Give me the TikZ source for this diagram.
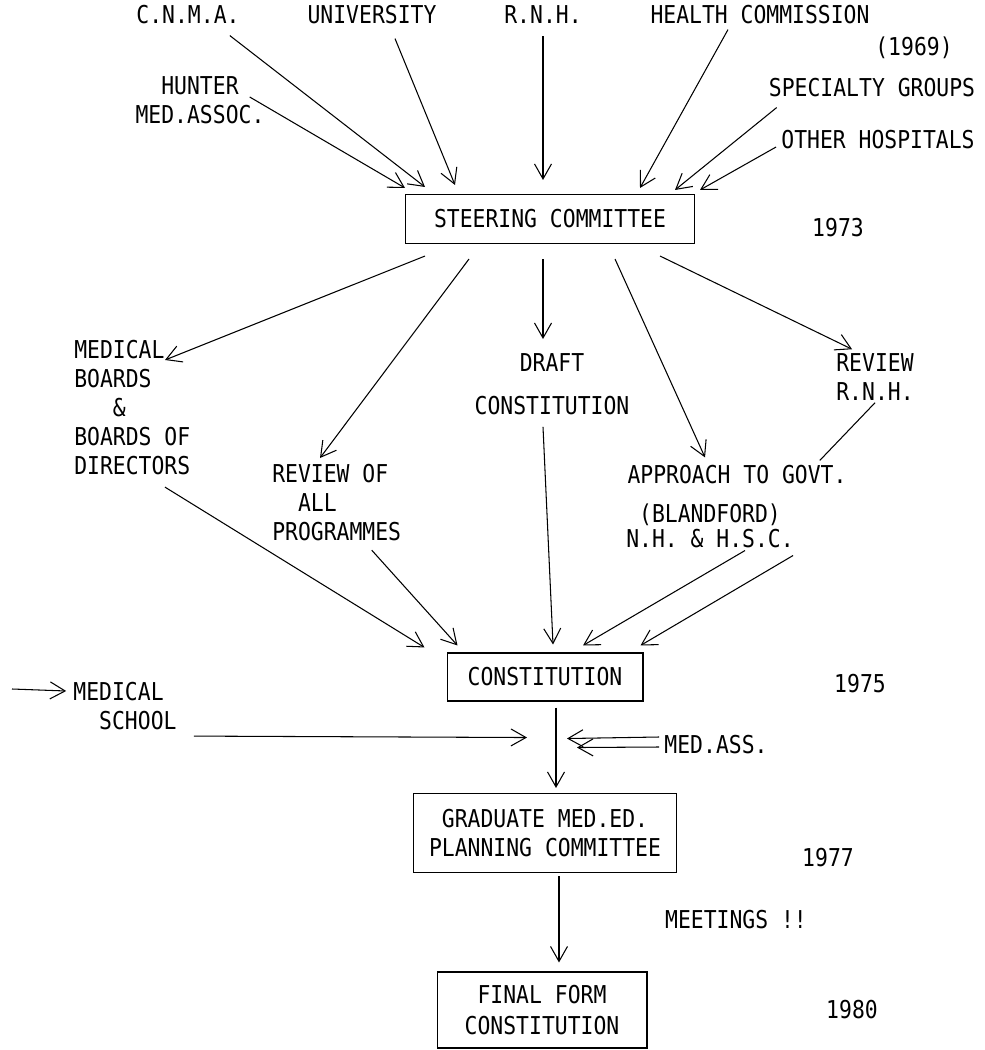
\documentclass[tikz,border=0pt]{standalone}
\usepackage{fontspec}
\newfontfamily\typewfont[FakeStretch=0.87]{DejaVu Sans Mono}
\usetikzlibrary{arrows.meta}
\begin{document}
\begin{tikzpicture}[x=0.02cm,y=-0.02cm,line width=0.6pt,
    >={Straight Barb[length=3mm,width=3.4mm]},
    font=\typewfont\fontsize{14}{16.5}\selectfont]

      \useasboundingbox (0,0) rectangle (984,1050);

      \begin{scope}[every node/.style={draw, inner sep=2pt}]
        \node[minimum width=5.78cm, minimum height=0.98cm] (steer) at (550,219) {STEERING COMMITTEE};
        \node[minimum width=3.92cm, minimum height=0.96cm] (const) at (545,677) {CONSTITUTION};
        \node[minimum width=5.26cm, minimum height=1.58cm, align=center] (grad) at (545,833) {GRADUATE MED.ED.\\PLANNING COMMITTEE};
        \node[minimum width=4.2cm, minimum height=1.52cm, align=center] (final) at (542,1010) {FINAL FORM\\[1pt]CONSTITUTION};
      \end{scope}

      \begin{scope}[every node/.style={inner sep=1pt}]
        \node (cnma) at (188,15) {C.N.M.A.};
        \node (univ) at (372,15) {UNIVERSITY};
        \node (rnh) at (543,15) {R.N.H.};
        \node (health) at (760,15) {HEALTH COMMISSION};
        \node (yr69) at (914,48) {(1969)};
        \node (spec) at (872,88) {SPECIALTY GROUPS};
        \node[align=center] (hunter) at (200,100) {HUNTER\\MED.ASSOC.};
        \node (other) at (878,140) {OTHER HOSPITALS};
        \node (yr73) at (838,228) {1973};
        \node[align=left, anchor=north west] (medb) at (72,338) {MEDICAL\\BOARDS\\\phantom{BOA}\&\\BOARDS OF\\DIRECTORS};
        \node[align=left, anchor=north west] (revp) at (270,462) {REVIEW OF\\\phantom{RE}ALL\\PROGRAMMES};
        \node[align=center] (draft) at (552,384) {DRAFT\\[8pt]CONSTITUTION};
        \node[align=left] (revrnh) at (875,377) {REVIEW\\R.N.H.};
        \node (approach) at (737,475) {APPROACH TO GOVT.};
        \node[align=center] (blandf) at (710,526) {(BLANDFORD)\\[-2pt]N.H. \& H.S.C.};
        \node (yr75) at (860,684) {1975};
        \node[align=left] (medsch) at (125,706) {MEDICAL\\\phantom{ME}SCHOOL};
        \node (medass) at (716,745) {MED.ASS.};
        \node (yr77) at (828,858) {1977};
        \node (meet) at (736,920) {MEETINGS !!};
        \node (yr80) at (852,1010) {1980};
        \coordinate (msin) at (12,689);
      \end{scope}

      \begin{scope}[every edge/.style={draw,->}]
        \path ([shift={(-17,-3)}]hunter.east) edge ([shift={(0,-6)}]steer.north west);
        \path ([shift={(-12,9)}]cnma.south east) edge ([shift={(20,-7)}]steer.north west);
        \path ([shift={(23,12)}]univ.south) edge ([shift={(50,-9)}]steer.north west);
        \path ([shift={(0,10)}]rnh.south) edge ([shift={(-7,-14)}]steer.north);
        \path ([shift={(-32,3)}]health.south) edge ([shift={(-55,-6)}]steer.north east);
        \path ([shift={(10,8)}]spec.south west) edge ([shift={(-20,-4)}]steer.north east);
        \path ([shift={(-3,7)}]other.west) edge ([shift={(5,-4)}]steer.north east);

        \path ([shift={(20,12)}]steer.south west) edge ([shift={(93,22)}]medb.north west);
        \path ([shift={(64,15)}]steer.south west) edge ([shift={(50,-4)}]revp.north west);
        \path ([shift={(-7,15)}]steer.south) edge ([shift={(-9,-12)}]draft.north);
        \path ([shift={(65,15)}]steer.south) edge ([shift={(-32,-6)}]approach.north);
        \path ([shift={(-35,12)}]steer.south east) edge ([shift={(18,-2)}]revrnh.north west);
        \path (revrnh.south) edge[-] ([shift={(-29,-3)}]approach.north east);

        \path ([shift={(93,10)}]medb.south west) edge ([shift={(-22,-5)}]const.north west);
        \path ([shift={(35,7)}]revp.south) edge ([shift={(11,-7)}]const.north west);
        \path ([shift={(-9,10)}]draft.south) edge ([shift={(8,-8)}]const.north);
        \path ([shift={(35,0)}]blandf.south) edge ([shift={(38,-7)}]const.north);
        \path ([shift={(-3,5)}]blandf.south east) edge ([shift={(-3,-7)}]const.north east);

        \path (msin) edge ([shift={(-5,-15)}]medsch.west);
        \path ([shift={(15,4)}]medsch.south east) edge ([shift={(-18,36)}]const.south);
        \path ([shift={(11,6)}]const.south) edge ([shift={(11,-5)}]grad.north);
        \path ([shift={(-3,-8)}]medass.west) edge ([shift={(22,37)}]const.south);
        \path ([shift={(-3,2)}]medass.west) edge ([shift={(32,46)}]const.south);
        \path ([shift={(14,3)}]grad.south) edge ([shift={(17,-9)}]final.north);
      \end{scope}

    \end{tikzpicture}
\end{document}
